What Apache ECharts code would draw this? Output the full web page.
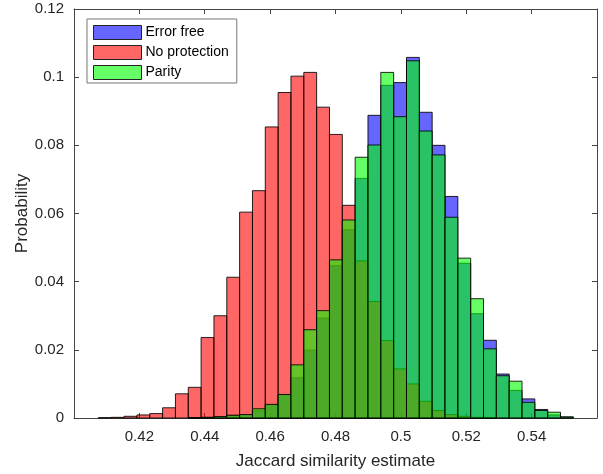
<!DOCTYPE html>
<html>
<head>
<meta charset="utf-8">
<title>Jaccard similarity histogram</title>
<script src="https://cdn.jsdelivr.net/npm/echarts@6.0.0/dist/echarts.min.js"></script>
<style>
  html, body { margin: 0; padding: 0; background: #fff; }
  #chart { width: 603px; height: 474px; }
</style>
</head>
<body>
<div id="chart"></div>
<script>
// histogram bins (shared by all three series)
const binStart = 0.40747
const binWidth = 0.003927

// probability per bin
const errorFree = [
  0, 0, 0, 0, 0, 0, 0, 0.0001, 0.0002, 0.0004,
  0.0008, 0.001, 0.0021, 0.0039, 0.0068, 0.0118, 0.0199, 0.0293, 0.0447, 0.0552,
  0.0703, 0.0888, 0.0976, 0.0984, 0.1058, 0.0897, 0.080, 0.065, 0.0454, 0.0306,
  0.0228, 0.0129, 0.0081, 0.0056, 0.0025, 0.0009, 0.0003
]
const noProtection = [
  0.0001, 0.0002, 0.0005, 0.0009, 0.0013, 0.003, 0.0071, 0.009, 0.0236, 0.030,
  0.0413, 0.0604, 0.0667, 0.0854, 0.0955, 0.1003, 0.1014, 0.0912, 0.0832, 0.0624,
  0.0461, 0.0342, 0.0227, 0.0144, 0.010, 0.0049, 0.0022, 0.001, 0.0005, 0.0002,
  0.0001, 0, 0, 0, 0, 0, 0
]
const parity = [
  0, 0, 0, 0, 0, 0, 0, 0.0001, 0.0002, 0.0004,
  0.0008, 0.001, 0.0027, 0.004, 0.0069, 0.0156, 0.0259, 0.0315, 0.0464, 0.0581,
  0.0765, 0.0801, 0.1014, 0.0884, 0.1048, 0.0842, 0.0772, 0.0589, 0.0469, 0.035,
  0.0203, 0.0124, 0.0108, 0.0046, 0.0022, 0.0017, 0.0003
]

const xTicks = [0.42, 0.44, 0.46, 0.48, 0.5, 0.52, 0.54]

const chart = echarts.init(document.getElementById('chart'))

function toBins(values) {
  return values.map((v, i) => [binStart + i * binWidth, binStart + (i + 1) * binWidth, v])
}

function renderBar(params, api) {
  const v = api.value(2)
  if (!v) return null
  const p0 = api.coord([api.value(0), v])
  const p1 = api.coord([api.value(1), 0])
  return {
    type: 'rect',
    shape: { x: p0[0], y: p0[1], width: p1[0] - p0[0], height: p1[1] - p0[1] },
    style: { fill: api.visual('color'), stroke: 'rgba(0,0,0,0.85)', lineWidth: 1 }
  }
}

function histSeries(name, values, fill) {
  return {
    name: name,
    type: 'custom',
    renderItem: renderBar,
    itemStyle: { color: fill },
    encode: { x: [0, 1], y: 2 },
    data: toBins(values)
  }
}

const axisColor = '#444'
const textColor = '#262626'
const font = 'Liberation Sans, Arial, Helvetica, sans-serif'

const option = {
  animation: false,
  grid: { left: 74, right: 6, top: 9, bottom: 56, outerBoundsMode: 'none' },
  legend: {
    orient: 'vertical',
    left: 87,
    top: 19,
    padding: [6, 8, 3, 6],
    itemGap: 5,
    itemWidth: 48,
    itemHeight: 14,
    backgroundColor: '#fff',
    borderColor: '#777',
    borderWidth: 1,
    textStyle: { fontSize: 14, color: '#000', fontFamily: font, padding: [0, 0, 0, -1] },
    data: [
      { name: 'Error free', icon: 'rect', itemStyle: { color: '#6666ff', borderColor: '#222', borderWidth: 1 } },
      { name: 'No protection', icon: 'rect', itemStyle: { color: '#ff6666', borderColor: '#222', borderWidth: 1 } },
      { name: 'Parity', icon: 'rect', itemStyle: { color: '#66ff66', borderColor: '#222', borderWidth: 1 } }
    ]
  },
  xAxis: [
    {
      type: 'value',
      min: 0.40,
      max: 0.56,
      interval: 0.02,
      name: 'Jaccard similarity estimate',
      nameLocation: 'middle',
      nameGap: 35,
      nameMoveOverlap: false,
      nameTextStyle: { fontSize: 17, color: textColor, fontFamily: font },
      axisLine: { show: true, onZero: false, lineStyle: { color: axisColor } },
      axisTick: { show: true, inside: true, length: 5, lineStyle: { color: axisColor } },
      axisLabel: {
        margin: 11,
        fontSize: 15,
        color: textColor,
        fontFamily: font,
        showMinLabel: false,
        showMaxLabel: false,
        formatter: v => (xTicks.some(t => Math.abs(t - v) < 1e-9) ? String(+v.toFixed(2)) : '')
      },
      splitLine: { show: false }
    },
    {
      type: 'value',
      position: 'top',
      min: 0.40,
      max: 0.56,
      interval: 0.02,
      axisLine: { show: true, onZero: false, lineStyle: { color: axisColor } },
      axisTick: { show: true, inside: true, length: 5, lineStyle: { color: axisColor } },
      axisLabel: { show: false },
      splitLine: { show: false }
    }
  ],
  yAxis: [
    {
      type: 'value',
      min: 0,
      max: 0.12,
      interval: 0.02,
      name: 'Probability',
      nameLocation: 'middle',
      nameGap: 43,
      nameMoveOverlap: false,
      nameTextStyle: { fontSize: 17, color: textColor, fontFamily: font },
      axisLine: { show: true, onZero: false, lineStyle: { color: axisColor } },
      axisTick: { show: true, inside: true, length: 5, lineStyle: { color: axisColor } },
      axisLabel: {
        margin: 10,
        fontSize: 15,
        color: textColor,
        fontFamily: font,
        formatter: v => String(+v.toFixed(2))
      },
      splitLine: { show: false }
    },
    {
      type: 'value',
      position: 'right',
      min: 0,
      max: 0.12,
      interval: 0.02,
      axisLine: { show: true, onZero: false, lineStyle: { color: axisColor } },
      axisTick: { show: true, inside: true, length: 5, lineStyle: { color: axisColor } },
      axisLabel: { show: false },
      splitLine: { show: false }
    }
  ],
  series: [
    histSeries('Error free', errorFree, 'rgba(0,0,255,0.6)'),
    histSeries('No protection', noProtection, 'rgba(255,0,0,0.6)'),
    histSeries('Parity', parity, 'rgba(0,255,0,0.6)')
  ]
}

chart.setOption(option)
</script>
</body>
</html>
